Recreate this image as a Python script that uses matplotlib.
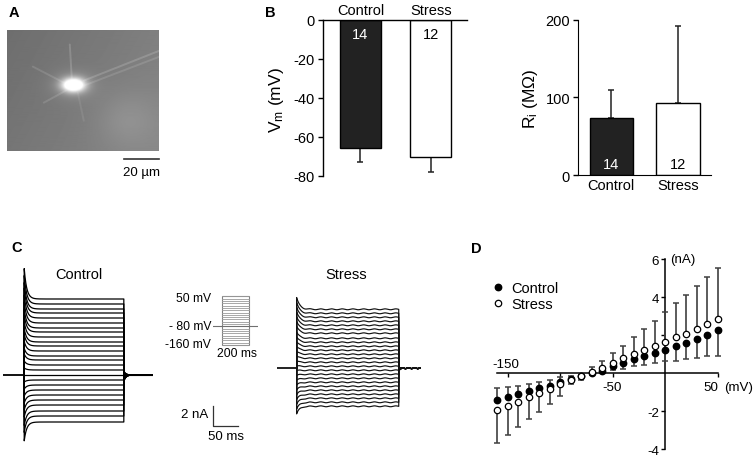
import numpy as np
import matplotlib
matplotlib.use('Agg')
import matplotlib.pyplot as plt
from matplotlib.patches import Rectangle

plt.rcParams['font.family'] = ['Liberation Sans', 'DejaVu Sans']
plt.rcParams['mathtext.fontset'] = 'custom'
plt.rcParams['mathtext.rm'] = 'Liberation Sans'
plt.rcParams['mathtext.it'] = 'Liberation Sans:italic'
plt.rcParams['axes.unicode_minus'] = False

# ---------------- data ----------------
groups = ['Control', 'Stress']
n_cells = [14, 12]
vm_mean = [-65.8, -70.6]
vm_sem = [7.3, 7.7]
ri_mean = [73, 93]
ri_sem = [36, 99]

step_mV = [-160, -150, -140, -130, -120, -110, -100, -90, -80, -70, -60,
           -50, -40, -30, -20, -10, 0, 10, 20, 30, 40, 50]
iv_control = [-1.39, -1.26, -1.11, -0.93, -0.79, -0.65, -0.47, -0.30, -0.14, 0.00, 0.12,
              0.38, 0.54, 0.74, 0.89, 1.05, 1.24, 1.42, 1.59, 1.79, 2.02, 2.26]
iv_control_err = [0.60, 0.53, 0.45, 0.37, 0.35, 0.32, 0.30, 0.15, 0.10, 0.08, 0.10,
                  0.20, 0.31, 0.37, 0.45, 0.51, 0.61, 0.75, 0.84, 0.98, 1.13, 1.33]
iv_stress = [-1.93, -1.71, -1.49, -1.26, -1.04, -0.83, -0.56, -0.34, -0.13, 0.05, 0.30,
             0.54, 0.79, 1.00, 1.23, 1.44, 1.63, 1.89, 2.09, 2.33, 2.59, 2.86]
iv_stress_err = [1.75, 1.54, 1.35, 1.14, 0.98, 0.79, 0.65, 0.23, 0.21, 0.26, 0.37,
                 0.51, 0.67, 0.91, 1.10, 1.33, 1.61, 1.79, 2.03, 2.25, 2.46, 2.67]

# example current traces: steady-state level (nA) of each sweep
ctrl_levels = [7.6, 7.1, 6.6, 6.2, 5.7, 5.2, 4.7, 4.3, 3.8, 3.3, 2.9, 2.4, 1.9,
               1.5, 1.0, 0.5, 0.0, -0.5, -1.0, -1.5, -2.0, -2.5, -3.0, -3.6, -4.1, -4.7]
stress_levels = [5.9, 5.5, 5.1, 4.7, 4.3, 3.9, 3.5, 3.0, 2.6, 2.2, 1.8, 1.4, 1.0,
                 0.6, 0.2, -0.2, -0.6, -1.0, -1.4, -1.8, -2.2, -2.6, -3.0, -3.4, -3.8]
step_dur_ms = 200
scale_nA = 2
scale_ms = 50

# ---------------- figure ----------------
W, H = 755, 460
fig = plt.figure(figsize=(7.55, 4.6), dpi=100)


def add_ax(l, t, r, b):
    return fig.add_axes([l / W, 1 - b / H, (r - l) / W, (b - t) / H])


def ftext(x, y, s, **kw):
    fig.text(x / W, 1 - y / H, s, **kw)


FS = 10.5
FSD = 9.6
for lab, (x, y) in zip('ABCD', [(9, 13), (265, 13), (11, 248), (471, 249)]):
    ftext(x, y, lab, fontsize=10.5, fontweight='bold', ha='left', va='center')

# ---------------- panel A (micrograph) ----------------
axa = add_ax(7.3, 31, 159.3, 152.3)
h, w = 121, 152
yy, xx = np.mgrid[0:h, 0:w]
img = 0.43 + 0.07 * (xx / w) + 0.03 * (yy / h)
img += 0.06 * np.exp(-((xx - 120) / 30.0) ** 2 - ((yy - 90) / 28.0) ** 2)
img += 0.80 * np.exp(-((xx - 66) / 11.0) ** 2 - ((yy - 55) / 6.5) ** 2)
img += 0.12 * np.exp(-((xx - 66) / 20) ** 2 - ((yy - 55) / 13) ** 2)
img = np.clip(img, 0, 1)
axa.imshow(img, cmap='gray', vmin=0, vmax=1, aspect='auto', interpolation='bilinear')
for (x0, y0, x1, y1, a) in [(76, 50, 152, 20, 0.16), (76, 55, 152, 26, 0.12),
                            (64, 48, 62, 14, 0.16), (58, 53, 25, 36, 0.12),
                            (58, 60, 36, 72, 0.12), (70, 62, 76, 90, 0.08)]:
    axa.plot([x0, x1], [y0, y1], color='white', lw=1.4, alpha=a, solid_capstyle='round')
axa.set_xlim(-0.5, w - 0.5)
axa.set_ylim(h - 0.5, -0.5)
axa.axis('off')
fig.add_artist(plt.Line2D([124 / W, 159 / W], [1 - 160 / H, 1 - 160 / H],
                          color='#333333', lw=1.2))
ftext(141.5, 173, '20 µm', fontsize=9.5, ha='center', va='center')

# ---------------- panel B left (Vm) ----------------
bar_colors = ['#222222', 'white']
axv = add_ax(322.7, 20.7, 466.7, 176.7)
xpos = np.arange(len(groups))
axv.errorbar(xpos, vm_mean, yerr=[vm_sem, [0, 0]], fmt='none', ecolor='#222222',
             elinewidth=1.1, capsize=2.5, capthick=1.1, zorder=1)
axv.bar(xpos, vm_mean, width=0.58, color=bar_colors, edgecolor='black', linewidth=1.0, zorder=2)
axv.set_xlim(-0.535, 1.508)
axv.set_ylim(-80, 0)
for s in ['right', 'bottom']:
    axv.spines[s].set_visible(False)
for s in ['left', 'top']:
    axv.spines[s].set_linewidth(1.0)
axv.set_xticks([])
axv.set_yticks([0, -20, -40, -60, -80])
axv.tick_params(axis='y', length=3.5, width=1.0, labelsize=FS, pad=2)
for i, g in enumerate(groups):
    axv.text(i, 1.4, g, ha='center', va='bottom', fontsize=FS, clip_on=False)
    axv.text(i, -7.3, str(n_cells[i]), ha='center', va='center', fontsize=FS,
             color='white' if i == 0 else 'black')
ftext(276, 100, r'$\mathregular{V_m}$ (mV)', rotation=90, fontsize=12.5, ha='center', va='center')

# ---------------- panel B right (Ri) ----------------
axr = add_ax(577.7, 20.7, 710.7, 176)
axr.errorbar(xpos, ri_mean, yerr=[[0, 0], ri_sem], fmt='none', ecolor='#222222',
             elinewidth=1.1, capsize=2.5, capthick=1.1, zorder=1)
axr.bar(xpos, ri_mean, width=0.65, color=bar_colors, edgecolor='black', linewidth=1.0, zorder=2)
axr.set_xlim(-0.504, 1.49)
axr.set_ylim(0, 200)
for s in ['right', 'top']:
    axr.spines[s].set_visible(False)
axr.set_yticks([0, 100, 200])
axr.set_xticks(xpos)
axr.set_xticklabels(groups)
axr.tick_params(axis='x', length=0, labelsize=FS, pad=2)
axr.tick_params(axis='y', length=3.5, width=1.0, labelsize=FS, pad=2)
for i in range(2):
    axr.text(i, 14, str(n_cells[i]), ha='center', va='center', fontsize=FS,
             color='white' if i == 0 else 'black')
ftext(530, 99, r'$\mathregular{R_i}$ (MΩ)', rotation=90, fontsize=12.5, ha='center', va='center')

# ---------------- panel C (traces) ----------------
axc = add_ax(3.3, 265, 152.7, 445)
t = np.linspace(0, step_dur_ms, 500)
tt = np.linspace(step_dur_ms, 258, 200)
for L in ctrl_levels:
    yv = L + 0.4 * L * np.exp(-t / 5.0)
    axc.plot(np.r_[0, t, step_dur_ms], np.r_[0, yv, 0], color='black', lw=0.9)
    axc.plot(tt, -0.09 * L * np.exp(-(tt - step_dur_ms) / 4.0), color='black', lw=0.8)
axc.plot([-42, 0], [0, 0], color='black', lw=1.3)
axc.set_xlim(-42, 258)
axc.set_ylim(-6.9, 11.1)
axc.axis('off')
ftext(79, 275, 'Control', fontsize=FS, ha='center', va='center')

# scale bar (drawn in the control-trace units)
sx, sy = 379.7, -5.07
axc.plot([sx, sx, sx + scale_ms], [sy + scale_nA, sy, sy], color='#333333', lw=0.9, clip_on=False)
axc.text(sx - 10, sy + 1.17, f'{scale_nA} nA', ha='right', va='center', fontsize=9.5, clip_on=False)
axc.text(sx + 25, sy - 1.06, f'{scale_ms} ms', ha='center', va='center', fontsize=9.5, clip_on=False)

axs = add_ax(276.7, 290, 420.7, 420)
t2 = np.linspace(0, step_dur_ms, 500)
tt2 = np.linspace(step_dur_ms, 243, 150)
for L in stress_levels:
    yv = L + 0.2 * L * np.exp(-t2 / 6.0) + 0.045 * np.sin(2 * np.pi * t2 / 21.0)
    axs.plot(np.r_[0, t2, step_dur_ms], np.r_[0, yv, 0], color='#111111', lw=0.85)
    axs.plot(tt2, -0.04 * L * np.exp(-(tt2 - step_dur_ms) / 3.0)
             + 0.03 * np.sin(2 * np.pi * tt2 / 12.0), color='#111111', lw=0.8)
axs.plot([-39, 0], [0, 0], color='#111111', lw=1.3)
axs.set_xlim(-39, 243)
axs.set_ylim(-5.07, 7.93)
axs.axis('off')
ftext(346, 275, 'Stress', fontsize=FS, ha='center', va='center')

# voltage protocol inset
axp = add_ax(213.3, 290, 258.3, 352)
for v in step_mV:
    axp.plot([0, step_dur_ms], [v, v], color='#9a9a9a', lw=0.6)
axp.add_patch(Rectangle((0, min(step_mV)), step_dur_ms, max(step_mV) - min(step_mV),
                        fill=False, edgecolor='#808080', lw=0.8))
axp.plot([-61, 265], [-80, -80], color='#707070', lw=0.8)
axp.set_xlim(-61, 265)
axp.set_ylim(-185.9, 81.5)
axp.axis('off')
axp.text(-80, 43, '50 mV', ha='right', va='center', fontsize=8.7, clip_on=False)
axp.text(-76, -80, '- 80 mV', ha='right', va='center', fontsize=8.7, clip_on=False)
axp.text(-80, -156, '-160 mV', ha='right', va='center', fontsize=8.7, clip_on=False)
axp.text(110, -193, '200 ms', ha='center', va='center', fontsize=8.7, clip_on=False)

# ---------------- panel D (I-V) ----------------
axd = add_ax(491.95, 256.9, 722.95, 455.5)
vc = np.array(iv_control)
vs = np.array(iv_stress)
ec = np.array(iv_control_err)
es = np.array(iv_stress_err)
c_lo = np.where(vc >= 0, ec, 0)
c_hi = np.where(vc < 0, ec, 0)
s_lo = np.where(vs < 0, es, 0)
s_hi = np.where(vs >= 0, es, 0)
err_kw = dict(fmt='none', ecolor='#404040', elinewidth=1.2, capsize=2.3, capthick=1.1, zorder=2)
axd.errorbar(step_mV, vc, yerr=[c_lo, c_hi], **err_kw)
axd.errorbar(step_mV, vs, yerr=[s_lo, s_hi], **err_kw)
axd.plot(step_mV, vc, 'o', color='black', ms=4.6, zorder=3, label='Control')
axd.plot(step_mV, vs, 'o', mfc='white', mec='black', mew=0.9, ms=4.6, zorder=4, label='Stress')
axd.set_xlim(-165, 55)
axd.set_ylim(-4.27, 6.18)
for s in ['right', 'top']:
    axd.spines[s].set_visible(False)
axd.spines['left'].set_position(('data', 0))
axd.spines['bottom'].set_position(('data', 0))
axd.spines['left'].set_bounds(-4, 6)
axd.spines['bottom'].set_bounds(-160, 50)
for s in ['left', 'bottom']:
    axd.spines[s].set_linewidth(1.1)
    axd.spines[s].set_zorder(1)
axd.set_yticks([-4, -2, 2, 4, 6])
axd.set_yticklabels(['-4', '-2', '', '4', '6'])
axd.set_xticks([-150, -100, -50, 50])
axd.set_xticklabels([])
axd.tick_params(axis='y', length=3, width=1.0, labelsize=FSD, pad=1.5)
axd.tick_params(axis='x', length=3, width=1.0)
axd.text(4.6, 6.0, '(nA)', ha='left', va='center', fontsize=FSD)
axd.text(-151.6, 0.49, '-150', ha='center', va='center', fontsize=FSD)
axd.text(-50.2, -0.73, '-50', ha='center', va='center', fontsize=FSD)
axd.text(51.0, -0.73, '50', ha='right', va='center', fontsize=FSD, clip_on=False)
axd.text(56.0, -0.73, '(mV)', ha='left', va='center', fontsize=FSD, clip_on=False)
axd.legend(loc='upper left', bbox_to_anchor=(0.0, 0.875), frameon=False, fontsize=FS,
           handlelength=0.8, handletextpad=0.5, labelspacing=0.15, borderpad=0,
           borderaxespad=0, numpoints=1)

fig.savefig('out.png', dpi=100)
